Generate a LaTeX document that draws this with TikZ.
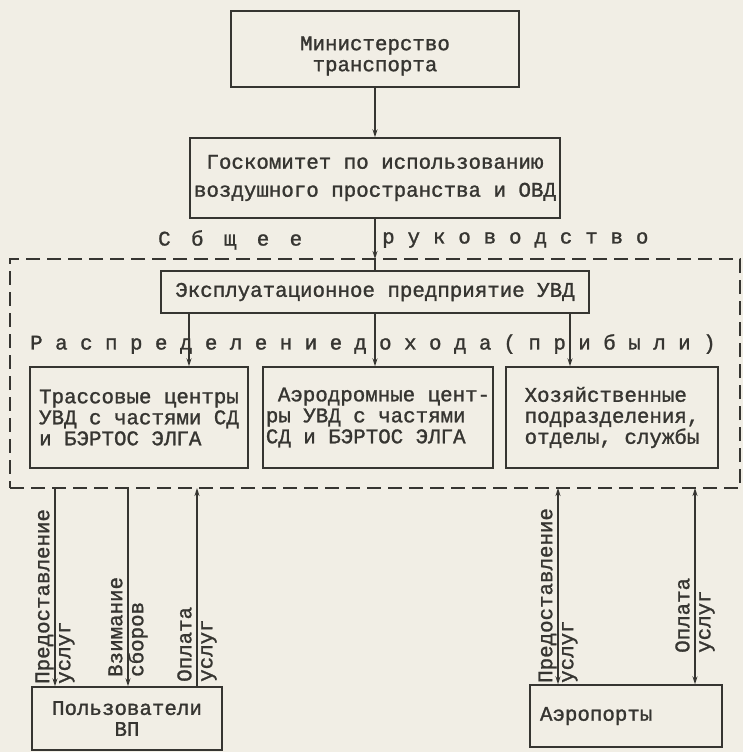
\documentclass[tikz,border=0pt]{standalone}
\usepackage{fontspec}
\setmainfont{Liberation Mono}[FakeBold=1.3]
\usetikzlibrary{arrows.meta}
\definecolor{ink}{HTML}{363531}
\definecolor{paper}{HTML}{F1EEE5}
\tikzset{
  every node/.style={font=\fontsize{20.8}{21}\selectfont, text=ink},
  boxn/.style={draw=ink, line width=1.4pt, inner sep=3pt},
  conn/.style={draw=ink, line width=1.3pt},
  tipend/.style={-{Stealth[length=8pt,width=5pt]}},
  tipstart/.style={{Stealth[length=8pt,width=5pt]}-},
  tipboth/.style={{Stealth[length=8pt,width=5pt]}-{Stealth[length=8pt,width=5pt]}},
  frameline/.style={draw=ink, line width=1.4pt, dash pattern=on 14pt off 7pt},
  vlabel/.style={rotate=90, anchor=west, align=left, inner sep=0pt}
}
\begin{document}
\begin{tikzpicture}[x=1pt,y=-1pt]
\fill[paper] (0,0) rectangle (743,752);
\useasboundingbox (0,0) rectangle (743,752);

% dashed frame
\node[frameline, minimum width=730pt, minimum height=229pt, inner sep=0pt] (frame) at (375,373.5) {};

% top boxes
\node[boxn, minimum width=288pt, minimum height=76pt] (min) at (375,49) {};
\node[align=center, inner sep=0pt] (mintext) at (375,56) {Министерство\\транспорта};
\node[boxn, minimum width=370pt, minimum height=80pt, align=center,
      font=\fontsize{20.8}{28}\selectfont] (gk) at (375,178) {Госкомитет по использованию\\воздушного пространства и ОВД};
\node[boxn, minimum width=428pt, minimum height=42pt] (ep) at (375,292) {Эксплуатационное предприятие УВД};

% spaced captions
\node[anchor=west, inner sep=0pt, font=\fontsize{20.8}{21}\selectfont\addfontfeature{LetterSpace=98}] (cap1) at (158,240) {Сбщее};
\node[anchor=west, inner sep=0pt, font=\fontsize{20.8}{21}\selectfont\addfontfeature{LetterSpace=62}] (cap2) at (382,240) {руководство};
\node[anchor=west, inner sep=0pt, font=\fontsize{20.8}{21}\selectfont\addfontfeature{LetterSpace=60}] (cap3) at (30,344) {Распределение\hspace{12pt}дохода\hspace{12pt}(прибыли)};

% three units
\node[boxn, minimum width=218pt, minimum height=101pt, align=left] (b1) at (139,417.5) {Трассовые центры\\УВД с частями СД\\и БЭРТОС ЭЛГА};
\node[boxn, minimum width=224pt, minimum height=101pt, align=left] (b2) at (378,417.5) {\hspace*{12pt}Аэродромные цент-\\ры УВД с частями\\СД и БЭРТОС ЭЛГА};
\node[boxn, minimum width=212pt, minimum height=101pt, align=left] (b3) at (612,417.5) {Хозяйственные\\подразделения,\\отделы, службы};

% bottom boxes
\node[boxn, minimum width=190pt, minimum height=63pt, align=center] (pu) at (127,718.5) {Пользователи\\ВП};
\node[boxn, minimum width=192pt, minimum height=62pt, inner xsep=10pt, text width=172pt, align=left] (ap) at (626,716) {Аэропорты};

% connectors top
\draw[conn, tipend] (min.south) -- (gk.north);
\coordinate (d1) at (375,259);
\draw[conn, tipend] (gk.south) -- (d1);
\draw[conn] (d1) -- (ep.north);

\coordinate (t1) at (189,313);
\coordinate (t2) at (375,313);
\coordinate (t3) at (570,313);
\draw[conn, tipend] (t1) -- (t1 |- b1.north);
\draw[conn, tipend] (t2) -- (t2 |- b2.north);
\draw[conn, tipend] (t3) -- (t3 |- b3.north);

% connectors bottom
\coordinate (c1) at (55,488);
\coordinate (c2) at (128,488);
\coordinate (c3) at (197,488);
\coordinate (c4) at (558,488);
\coordinate (c5) at (695,488);
\draw[conn, tipend] (c1) -- (c1 |- pu.north);
\draw[conn, tipend] (c2) -- (c2 |- pu.north);
\draw[conn, tipstart] (c3) -- (c3 |- pu.north);
\draw[conn, tipboth] (c4) -- (c4 |- ap.north);
\draw[conn, tipboth] (c5) -- (c5 |- ap.north);

% vertical labels
\node[vlabel] (l1) at (55,684) {Предоставление\\услуг};
\node[vlabel] (l2) at (128,677) {Взимание\\сборов};
\node[vlabel] (l3) at (197,682) {Оплата\\услуг};
\node[vlabel] (l4) at (558,683) {Предоставление\\услуг};
\node[vlabel] (l5) at (695,653) {Оплата\\услуг};
\end{tikzpicture}
\end{document}
